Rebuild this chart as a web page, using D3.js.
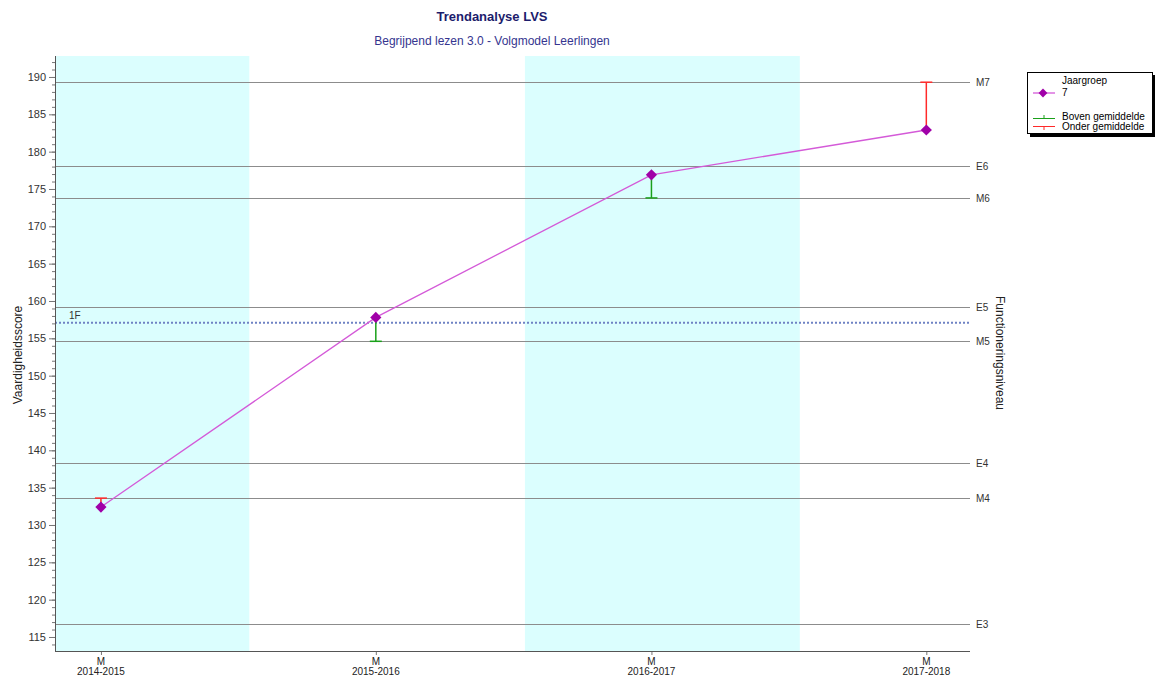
<!DOCTYPE html>
<html>
<head>
<meta charset="utf-8">
<script src="https://cdn.jsdelivr.net/npm/d3@7"></script>
<style>
  body { margin: 0; background: #fff; }
  svg { font-family: "Liberation Sans", Arial, sans-serif; }
</style>
</head>
<body>
<svg id="chart" width="1155" height="678"></svg>
<script>
// school years and the measurement moment (M = midden) in each
const schoolYears = ['2014-2015', '2015-2016', '2016-2017', '2017-2018']
const moments = ['M', 'M', 'M', 'M']
const scores = [132.4, 157.8, 176.9, 182.9]
// norm score (M-level) of the group for each year, end of the error bar
const normScores = [133.6, 154.6, 173.8, 189.3]

const levelNames = ['M7', 'E6', 'M6', 'E5', 'M5', 'E4', 'M4', 'E3']
const levelValues = [189.3, 178.1, 173.8, 159.25, 154.6, 138.3, 133.6, 116.7]

const refName = '1F'
const refValue = 157.1

const shadedYears = ['2014-2015', '2016-2017']
const yTicks = [115, 120, 125, 130, 135, 140, 145, 150, 155, 160, 165, 170, 175, 180, 185, 190]

const margin = {top: 56, left: 55, right: 970, bottom: 651}
const svg = d3.select('#chart')

// measurement taken mid january, school year runs august to august
const startYear = s => +s.split('-')[0]
const measureDate = s => new Date(startYear(s) + 1, 0, 16)

const x = d3.scaleTime()
  .domain([new Date(2014, 10, 16), new Date(2018, 2, 15)])
  .range([margin.left, margin.right])
const y = d3.scaleLinear()
  .domain([113.125, 192.81])
  .range([margin.bottom, margin.top])

svg.append('clipPath').attr('id', 'plot')
  .append('rect')
  .attr('x', margin.left).attr('y', margin.top)
  .attr('width', margin.right - margin.left)
  .attr('height', margin.bottom - margin.top)

// shaded school years
svg.append('g').attr('clip-path', 'url(#plot)')
  .selectAll('rect')
  .data(shadedYears)
  .enter().append('rect')
  .attr('x', d => x(new Date(startYear(d), 7, 1)))
  .attr('width', d => x(new Date(startYear(d) + 1, 7, 1)) - x(new Date(startYear(d), 7, 1)))
  .attr('y', margin.top)
  .attr('height', margin.bottom - margin.top)
  .attr('fill', '#dbfefe')

// level lines
const levels = svg.append('g')
levels.selectAll('line')
  .data(levelValues)
  .enter().append('line')
  .attr('x1', margin.left).attr('x2', margin.right)
  .attr('y1', d => Math.round(y(d)) + 0.5).attr('y2', d => Math.round(y(d)) + 0.5)
  .attr('stroke', '#8c8c8c')
levels.selectAll('text')
  .data(levelNames)
  .enter().append('text')
  .attr('x', margin.right + 6)
  .attr('y', (d, i) => y(levelValues[i]) + 4)
  .attr('font-size', 10)
  .attr('fill', '#333')
  .text(d => d)

// 1F reference
svg.append('line')
  .attr('x1', margin.left).attr('x2', margin.right)
  .attr('y1', y(refValue)).attr('y2', y(refValue))
  .attr('stroke', '#6f82c4')
  .attr('stroke-width', 2)
  .attr('stroke-dasharray', '2,2')
svg.append('text')
  .attr('x', 69).attr('y', y(refValue) - 4)
  .attr('font-size', 10)
  .attr('fill', '#333')
  .text(refName)

// left axis
const yAxis = svg.append('g')
  .attr('transform', `translate(${margin.left},0)`)
  .call(d3.axisLeft(y).tickValues(yTicks).tickSize(6).tickPadding(3))
yAxis.select('.domain').remove()
yAxis.selectAll('text').attr('font-size', 11).attr('fill', '#333').attr('font-family', null)
yAxis.selectAll('line').attr('stroke', '#777')
svg.append('g')
  .attr('transform', `translate(${margin.left},0)`)
  .call(d3.axisLeft(y).ticks(80).tickSize(3).tickFormat(''))
  .call(g => g.select('.domain').remove())
  .selectAll('line').attr('stroke', '#777')
svg.append('line')
  .attr('x1', margin.left + 0.5).attr('x2', margin.left + 0.5)
  .attr('y1', margin.top).attr('y2', margin.bottom)
  .attr('stroke', '#555')

// bottom axis
const xAxis = svg.append('g')
  .attr('transform', `translate(0,${margin.bottom})`)
  .call(d3.axisBottom(x).tickValues(schoolYears.map(measureDate)).tickSize(4).tickFormat(''))
xAxis.select('.domain').remove()
xAxis.selectAll('line').attr('stroke', '#777')
svg.append('line')
  .attr('x1', margin.left).attr('x2', margin.right)
  .attr('y1', margin.bottom + 0.5).attr('y2', margin.bottom + 0.5)
  .attr('stroke', '#555')
const xLabels = svg.append('g').selectAll('text')
  .data(schoolYears)
  .enter().append('text')
  .attr('text-anchor', 'middle')
  .attr('font-size', 10)
  .attr('fill', '#222')
  .attr('x', d => x(measureDate(d)))
  .attr('y', margin.bottom + 14)
xLabels.append('tspan').text((d, i) => moments[i])
xLabels.append('tspan')
  .attr('x', d => x(measureDate(d)))
  .attr('dy', 10)
  .text(d => d)

// error bars to the norm
const bars = svg.append('g').selectAll('g')
  .data(schoolYears)
  .enter().append('g')
  .attr('stroke', (d, i) => scores[i] >= normScores[i] ? '#1aa01a' : '#ff2a2a')
  .attr('stroke-width', 1.5)
bars.append('line')
  .attr('x1', d => x(measureDate(d))).attr('x2', d => x(measureDate(d)))
  .attr('y1', (d, i) => y(scores[i])).attr('y2', (d, i) => y(normScores[i]))
bars.append('line')
  .attr('x1', d => x(measureDate(d)) - 6).attr('x2', d => x(measureDate(d)) + 6)
  .attr('y1', (d, i) => y(normScores[i])).attr('y2', (d, i) => y(normScores[i]))

// trend line
svg.append('path')
  .datum(schoolYears)
  .attr('fill', 'none')
  .attr('stroke', '#d45ad8')
  .attr('stroke-width', 1.3)
  .attr('d', d3.line().x(d => x(measureDate(d))).y((d, i) => y(scores[i])))

const diamond = d3.symbol().type(d3.symbolDiamond2).size(80)
svg.append('g').selectAll('path')
  .data(schoolYears)
  .enter().append('path')
  .attr('transform', (d, i) => `translate(${x(measureDate(d))},${y(scores[i])})`)
  .attr('d', diamond)
  .attr('fill', '#a000a8')

// titles
svg.append('text')
  .attr('x', 492).attr('y', 21)
  .attr('text-anchor', 'middle')
  .attr('font-size', 13).attr('font-weight', 'bold')
  .attr('fill', '#1c1c6c')
  .text('Trendanalyse LVS')
svg.append('text')
  .attr('x', 492).attr('y', 45)
  .attr('text-anchor', 'middle')
  .attr('font-size', 12)
  .attr('fill', '#35358f')
  .text('Begrijpend lezen 3.0 - Volgmodel Leerlingen')

svg.append('text')
  .attr('transform', `translate(22,355) rotate(-90)`)
  .attr('text-anchor', 'middle')
  .attr('font-size', 12)
  .attr('fill', '#222')
  .text('Vaardigheidsscore')
svg.append('text')
  .attr('transform', `translate(996,353) rotate(90)`)
  .attr('text-anchor', 'middle')
  .attr('font-size', 12)
  .attr('fill', '#222')
  .text('Functioneringsniveau')

// legend
const legend = svg.append('g').attr('transform', 'translate(1027,72)')
legend.append('rect')
  .attr('x', 3).attr('y', 3).attr('width', 126).attr('height', 62)
  .attr('fill', '#000')
legend.append('rect')
  .attr('x', 0.5).attr('y', 0.5).attr('width', 125).attr('height', 61)
  .attr('fill', '#fff').attr('stroke', '#000')
legend.append('line')
  .attr('x1', 6).attr('x2', 28).attr('y1', 21).attr('y2', 21)
  .attr('stroke', '#d45ad8').attr('stroke-width', 1.3)
legend.append('path')
  .attr('transform', 'translate(16,21)')
  .attr('d', d3.symbol().type(d3.symbolDiamond2).size(50))
  .attr('fill', '#a000a8')
legend.append('text').attr('x', 35).attr('y', 12).attr('font-size', 10).text('Jaargroep')
legend.append('text').attr('x', 35).attr('y', 24).attr('font-size', 10).text('7')
legend.append('line')
  .attr('x1', 6).attr('x2', 28).attr('y1', 46.5).attr('y2', 46.5).attr('stroke', '#1aa01a')
legend.append('line')
  .attr('x1', 17).attr('x2', 17).attr('y1', 43).attr('y2', 46.5).attr('stroke', '#1aa01a')
legend.append('text').attr('x', 35).attr('y', 48).attr('font-size', 10).text('Boven gemiddelde')
legend.append('line')
  .attr('x1', 6).attr('x2', 28).attr('y1', 54.5).attr('y2', 54.5).attr('stroke', '#ff2a2a')
legend.append('line')
  .attr('x1', 17).attr('x2', 17).attr('y1', 54.5).attr('y2', 58).attr('stroke', '#ff2a2a')
legend.append('text').attr('x', 35).attr('y', 58).attr('font-size', 10).text('Onder gemiddelde')
</script>
</body>
</html>
